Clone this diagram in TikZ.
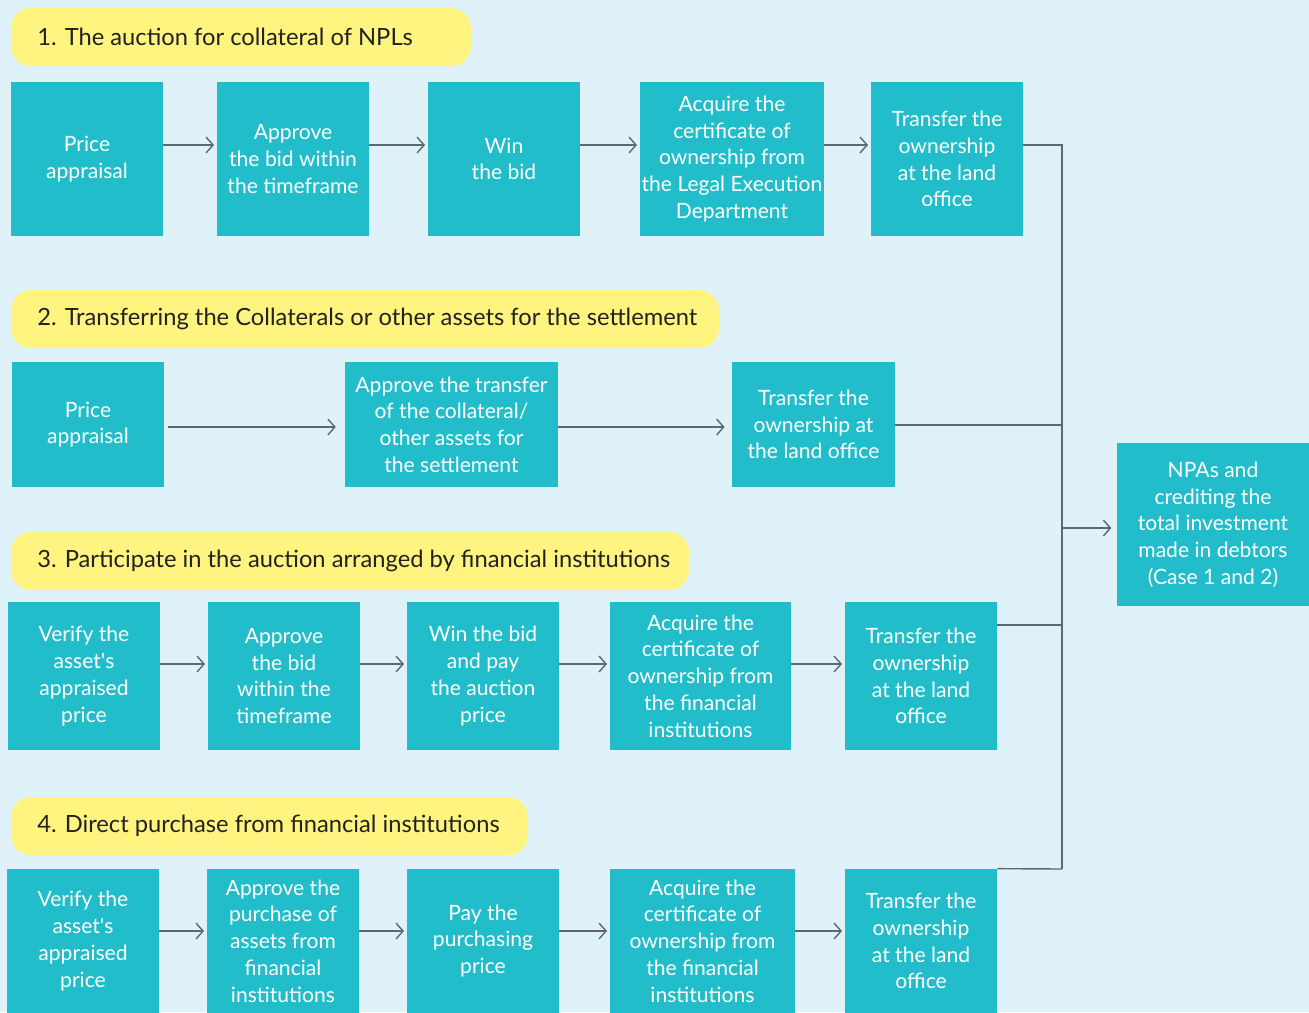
\documentclass[tikz,border=0pt]{standalone}
\usepackage{fontspec}
\setmainfont{Lato}
\usetikzlibrary{arrows.meta}
\definecolor{bg}{HTML}{E0F2F9}
\definecolor{boxc}{HTML}{22BDCA}
\definecolor{bann}{HTML}{FFF480}
\definecolor{linec}{HTML}{5F6770}
\definecolor{inkc}{HTML}{222222}
\tikzset{
  box/.style={fill=boxc, text=white, inner sep=0pt, align=center,
    font=\fontsize{12}{15.2}\selectfont},
  banner/.style={fill=bann, text=inkc, rounded corners=0.4cm, inner sep=0pt,
    font=\fontsize{13.5}{16}\selectfont},
  flow/.style={draw=linec, line width=0.8pt, -{Straight Barb[length=4pt,width=9pt]}, shorten >=1.5pt},
  bus/.style={draw=linec, line width=0.8pt}
}
\newcommand\ap{\textquotesingle}
% box by pixel corners: name, x1, y1, x2, y2, text
\newcommand\pbox[6]{\node[box, minimum width={(#4-#2)*0.02cm}, minimum height={(#5-#3)*0.02cm}]
  (#1) at ({(#2+#4)/2},{(#3+#5)/2}) {#6};}
\newcommand\pbanner[6]{\node[banner, minimum width={(#4-#2)*0.02cm}, minimum height={(#5-#3)*0.02cm}]
  (#1) at ({(#2+#4)/2},{(#3+#5)/2}) {};
  \node[text=inkc, anchor=west, inner sep=0pt, font=\fontsize{13.5}{16}\selectfont]
  (#1t) at ({#2+26},{(#3+#5)/2}) {#6};}
\begin{document}
\begin{tikzpicture}[x=0.02cm, y=-0.02cm]
\fill[bg] (0,0) rectangle (1309,1012);
\useasboundingbox (0,0) rectangle (1309,1012);
\begin{scope}
\clip (0,0) rectangle (1309,1012);

% section 1
\pbanner{h1}{11}{8}{471}{66}{1. The auction for collateral of NPLs}
\pbox{a1}{11}{82}{163}{236}{Price\\appraisal}
\pbox{a2}{217}{82}{369}{236}{Approve\\the bid within\\the timeframe}
\pbox{a3}{428}{82}{580}{236}{Win\\the bid}
\pbox{a4}{640}{82}{824}{236}{Acquire the\\certificate of\\ownership from\\the Legal Execution\\Department}
\pbox{a5}{871}{82}{1023}{236}{Transfer the\\ownership\\at the land\\office}

% section 2
\pbanner{h2}{11}{290}{719}{348}{2. Transferring the Collaterals or other assets for the settlement}
\pbox{b1}{12}{362}{164}{487}{Price\\appraisal}
\pbox{b2}{345}{362}{558}{487}{Approve the transfer\\of the collateral/\\other assets for\\the settlement}
\pbox{b3}{732}{362}{895}{487}{Transfer the\\ownership at\\the land office}

% section 3
\pbanner{h3}{11}{532}{689}{590}{3. Participate in the auction arranged by financial institutions}
\pbox{c1}{8}{602}{160}{750}{Verify the\\asset\ap s\\appraised\\price}
\pbox{c2}{208}{602}{360}{750}{Approve\\the bid\\within the\\timeframe}
\pbox{c3}{407}{602}{559}{750}{Win the bid\\and pay\\the auction\\price}
\pbox{c4}{610}{602}{791}{750}{Acquire the\\certificate of\\ownership from\\the financial\\institutions}
\pbox{c5}{845}{602}{997}{750}{Transfer the\\ownership\\at the land\\office}

% section 4
\pbanner{h4}{11}{797}{528}{855}{4. Direct purchase from financial institutions}
\pbox{d1}{7}{869}{159}{1013}{Verify the\\asset\ap s\\appraised\\price}
\pbox{d2}{207}{869}{359}{1013}{Approve the\\purchase of\\assets from\\financial\\institutions}
\pbox{d3}{407}{869}{559}{1013}{Pay the\\purchasing\\price}
\pbox{d4}{610}{869}{795}{1013}{Acquire the\\certificate of\\ownership from\\the financial\\institutions}
\pbox{d5}{845}{869}{997}{1013}{Transfer the\\ownership\\at the land\\office}

% result
\pbox{res}{1117}{443}{1309}{606}{NPAs and\\crediting the\\total investment\\made in debtors\\(Case 1 and 2)}
\end{scope}

% flow arrows along each row
\draw[flow] (a1.east |- 0,145) -- (a2.west |- 0,145);
\draw[flow] (a2.east |- 0,145) -- (a3.west |- 0,145);
\draw[flow] (a3.east |- 0,145) -- (a4.west |- 0,145);
\draw[flow] (a4.east |- 0,145) -- (a5.west |- 0,145);

\draw[flow, shorten <=2pt, shorten >=5pt] (b1.east |- 0,427) -- (b2.west |- 0,427);
\draw[flow, shorten >=4pt] (b2.east |- 0,427) -- (b3.west |- 0,427);

\draw[flow] (c1.east |- 0,664) -- (c2.west |- 0,664);
\draw[flow] (c2.east |- 0,664) -- (c3.west |- 0,664);
\draw[flow] (c3.east |- 0,664) -- (c4.west |- 0,664);
\draw[flow] (c4.east |- 0,664) -- (c5.west |- 0,664);

\draw[flow] (d1.east |- 0,931) -- (d2.west |- 0,931);
\draw[flow] (d2.east |- 0,931) -- (d3.west |- 0,931);
\draw[flow] (d3.east |- 0,931) -- (d4.west |- 0,931);
\draw[flow] (d4.east |- 0,931) -- (d5.west |- 0,931);

% collecting bus towards the result
\coordinate (bustop) at (1062,145);
\coordinate (busbot) at (1062,869);
\coordinate (busmid) at (1062,528);
\draw[bus] (a5.east |- bustop) -- (bustop) -- (busbot);
\draw[bus] (b3.east |- 0,425) -- (bustop |- 0,425);
\draw[bus] (c5.east |- 0,625) -- (bustop |- 0,625);
\draw[bus] (d5.north east) -- (busbot);
\draw[flow, shorten >=3pt] (busmid) -- (res.west |- busmid);
\end{tikzpicture}
\end{document}
